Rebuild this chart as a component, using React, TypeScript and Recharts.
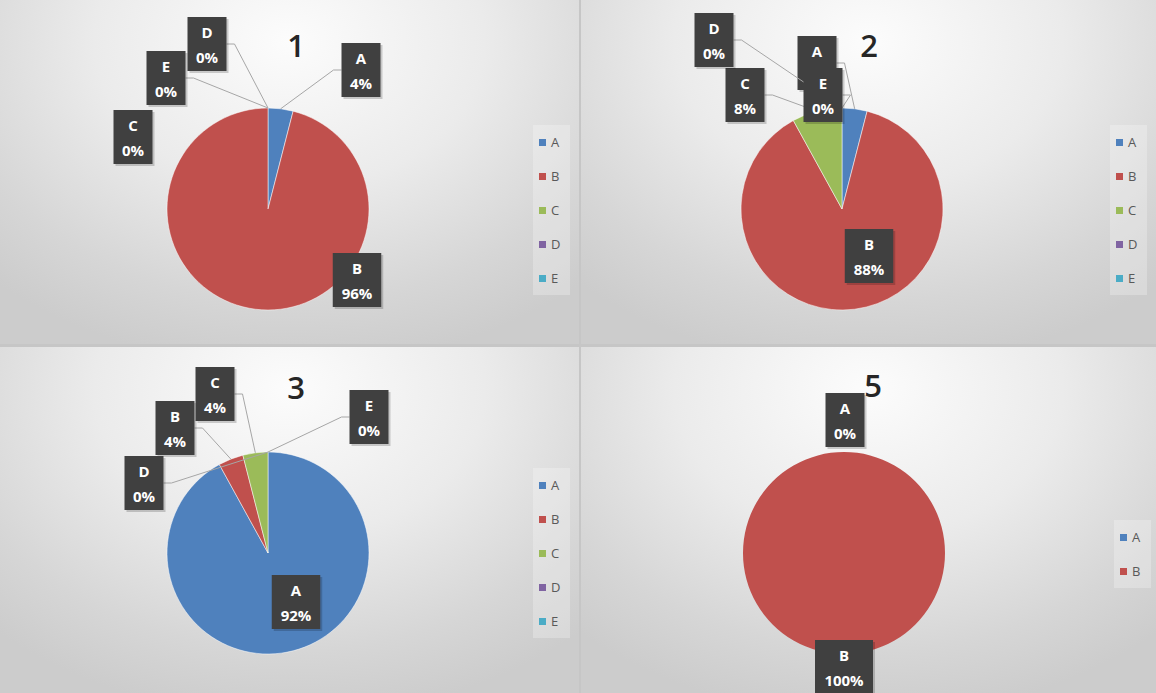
import React from 'react';
import { PieChart, Pie, Cell, Legend } from 'recharts';

// chart data (percent of answers per option)
const categories = ['A', 'B', 'C', 'D', 'E'];
const values1 = [4, 96, 0, 0, 0];
const values2 = [4, 88, 8, 0, 0];
const values3 = [92, 4, 4, 0, 0];
const categories5 = ['A', 'B'];
const values5 = [0, 100];
const titles = ['1', '2', '3', '5'];

const colors = ['#4F81BD', '#C0504D', '#9BBB59', '#8064A2', '#4BACC6'];

// label box centres relative to the pie centre, like Excel laid them out
type LabelPos = { dx: number; dy: number; line: boolean };
const labels1: LabelPos[] = [
  { dx: 93, dy: -139, line: true },
  { dx: 89, dy: 71, line: false },
  { dx: -135, dy: -72, line: false },
  { dx: -61, dy: -165, line: true },
  { dx: -102, dy: -131, line: true },
];
const labels2: LabelPos[] = [
  { dx: -25, dy: -146, line: true },
  { dx: 27, dy: 47, line: false },
  { dx: -97, dy: -114, line: true },
  { dx: -128, dy: -169, line: true },
  { dx: -19, dy: -114, line: true },
];
const labels3: LabelPos[] = [
  { dx: 28, dy: 49, line: false },
  { dx: -93, dy: -125, line: true },
  { dx: -53, dy: -159, line: true },
  { dx: -124, dy: -70, line: true },
  { dx: 101, dy: -136, line: true },
];
const labels5: LabelPos[] = [
  { dx: 1, dy: -133, line: false },
  { dx: 0, dy: 114, line: false },
];

const RADIAN = Math.PI / 180;
const FONT = '"Open Sans", "DejaVu Sans", sans-serif';

const makeLabel = (positions: LabelPos[]) => (props: any) => {
  const { cx, cy, midAngle, outerRadius, index, name, percent } = props;
  const pos = positions[index];
  if (!pos) return null;
  const ax = cx + outerRadius * Math.cos(-midAngle * RADIAN);
  const ay = cy + outerRadius * Math.sin(-midAngle * RADIAN);
  const pct = `${Math.round(percent * 100)}%`;
  const w = 20 + pct.length * 9.5;
  const h = 54;
  const bx = cx + pos.dx;
  const by = cy + pos.dy;

  let line = null;
  if (pos.line) {
    const side = bx < ax ? 1 : -1;
    const sx = bx + (side * w) / 2;
    const ex = sx + side * 8;
    line = (
      <polyline
        points={`${sx},${by} ${ex},${by} ${ax},${ay}`}
        fill="none"
        stroke="#a6a6a6"
        strokeWidth={1}
      />
    );
  }

  return (
    <g>
      {line}
      <rect x={bx - w / 2 + 2} y={by - h / 2 + 2} width={w} height={h} fill="rgba(0,0,0,0.18)" />
      <rect x={bx - w / 2} y={by - h / 2} width={w} height={h} fill="#404040" />
      <text x={bx} y={by - 6} textAnchor="middle" fill="#ffffff" fontFamily={FONT} fontSize={15} fontWeight="bold">
        {name}
      </text>
      <text x={bx} y={by + 19} textAnchor="middle" fill="#ffffff" fontFamily={FONT} fontSize={15} fontWeight="bold">
        {pct}
      </text>
    </g>
  );
};

const renderLegend = (props: any) => {
  const { payload } = props;
  return (
    <div style={{ background: 'rgba(255,255,255,0.25)', width: 37 }}>
      {(payload || []).map((entry: any) => (
        <div key={entry.value} style={{ height: 34, display: 'flex', alignItems: 'center', paddingLeft: 6 }}>
          <span style={{ display: 'inline-block', width: 7, height: 7, background: entry.color, marginRight: 5 }} />
          <span style={{ fontFamily: FONT, fontSize: 13, color: '#595959' }}>{entry.value}</span>
        </div>
      ))}
    </div>
  );
};

type PanelProps = {
  left: number;
  top: number;
  width: number;
  height: number;
  title: string;
  titleX: number;
  titleY: number;
  names: string[];
  values: number[];
  positions: LabelPos[];
  cx: number;
  cy: number;
  legendLeft: number;
  legendTop: number;
};

const Panel = (p: PanelProps) => {
  const data = p.names.map((name, i) => ({ name, value: p.values[i] }));
  const total = p.values.reduce((s, v) => s + v, 0);
  return (
    <div
      style={{
        position: 'absolute',
        left: p.left,
        top: p.top,
        width: p.width,
        height: p.height,
        overflow: 'hidden',
        background: 'radial-gradient(ellipse 75% 95% at 50% 12%, #fcfcfc 0%, #ebebeb 45%, #d6d6d6 80%, #cccccc 100%)',
      }}
    >
      <div
        style={{
          position: 'absolute',
          left: p.titleX - 30,
          top: p.titleY - 22,
          width: 60,
          textAlign: 'center',
          fontFamily: FONT,
          fontSize: 31,
          fontWeight: 600,
          lineHeight: '44px',
          color: '#262626',
        }}
      >
        {p.title}
      </div>
      <PieChart
        width={p.width}
        height={p.height}
        margin={{ top: 0, right: 0, bottom: 0, left: 0 }}
        style={{ position: 'absolute', left: 0, top: 0 }}
      >
        <Pie
          data={data}
          dataKey="value"
          nameKey="name"
          cx={p.cx}
          cy={p.cy}
          outerRadius={101}
          startAngle={90}
          endAngle={-270}
          strokeWidth={1}
          label={makeLabel(p.positions)}
          labelLine={false}
          isAnimationActive={false}
        >
          {data.map((d, i) => (
            <Cell
              key={d.name}
              fill={colors[i]}
              stroke={d.value === 0 || d.value === total ? 'none' : 'rgba(255,255,255,0.5)'}
            />
          ))}
        </Pie>
        <Legend
          layout="vertical"
          align="right"
          verticalAlign="top"
          content={renderLegend}
          wrapperStyle={{ left: p.legendLeft, top: p.legendTop, right: 'auto', width: 37 }}
        />
      </PieChart>
    </div>
  );
};

export default function App() {
  return (
    <div style={{ position: 'absolute', left: 0, top: 0, width: 1156, height: 693, background: '#c6c6c6', overflow: 'hidden' }}>
      <Panel left={0} top={0} width={579} height={344} title={titles[0]} titleX={296} titleY={45}
        names={categories} values={values1} positions={labels1} cx={268} cy={209} legendLeft={533} legendTop={125} />
      <Panel left={581} top={0} width={575} height={344} title={titles[1]} titleX={288} titleY={45}
        names={categories} values={values2} positions={labels2} cx={261} cy={209} legendLeft={529} legendTop={125} />
      <Panel left={0} top={347} width={579} height={346} title={titles[2]} titleX={296} titleY={40}
        names={categories} values={values3} positions={labels3} cx={268} cy={206} legendLeft={533} legendTop={121} />
      <Panel left={581} top={347} width={575} height={346} title={titles[3]} titleX={292} titleY={38}
        names={categories5} values={values5} positions={labels5} cx={263} cy={206} legendLeft={533} legendTop={173} />
    </div>
  );
}
